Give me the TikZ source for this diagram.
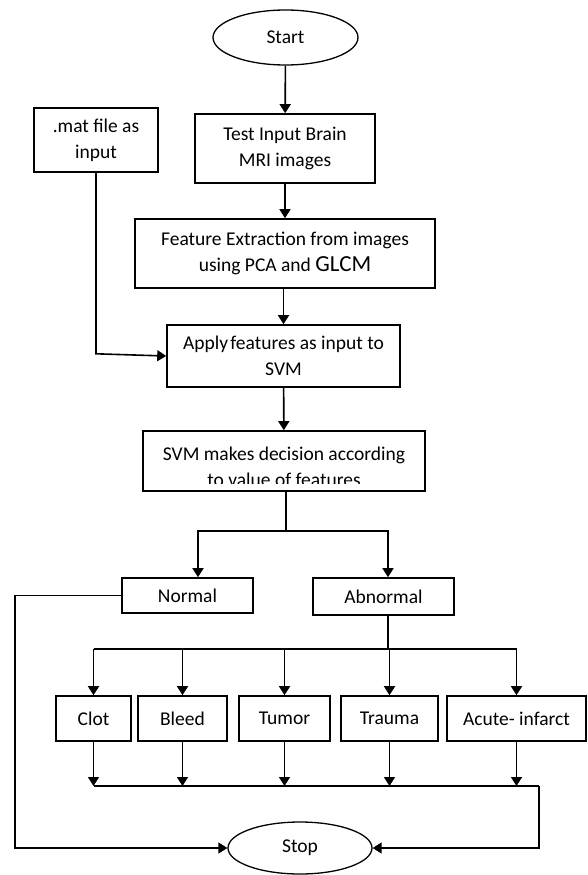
\documentclass[tikz,border=0pt]{standalone}
\usepackage{fontspec}
\setmainfont{Carlito}
\usetikzlibrary{arrows.meta,shapes.geometric}
\begin{document}
\begin{tikzpicture}[x=1pt,y=-1pt,
  every node/.style={font=\fontsize{19.5}{26}\selectfont, text=black, align=center, inner sep=0pt},
  box/.style={draw, line width=1.6pt, rectangle},
  oval/.style={draw, line width=1.3pt, ellipse},
  arr/.style={line width=1.6pt, -{Triangle[length=9pt,width=11pt]}},
  ln/.style={line width=1.6pt}]
\useasboundingbox (0,0) rectangle (587,875);

\node[oval, minimum width=145pt, minimum height=55pt] (start) at (285.5,37.5) {Start};
\node[box, minimum width=180pt, minimum height=69pt] (test) at (285,148.5) {Test Input Brain\\MRI images};
\node[box, minimum width=300pt, minimum height=69pt] (feat) at (285,253.5) {Feature Extraction from images\\using PCA and {\fontsize{23}{26}\selectfont GLCM}};
\node[box, minimum width=124pt, minimum height=64pt] (mat) at (96,140) {.mat file as\\input};
\node[box, minimum width=233pt, minimum height=62pt] (apply) at (283.5,356) {Apply\hspace{0.12em}features as input to\\SVM};
\node[box, minimum width=282pt, minimum height=60pt] (svm) at (284,461) {};
\begin{scope}
  \clip (143,431) rectangle (425,483.5);
  \node at (284,467) {SVM makes decision according\\to value of features};
\end{scope}
\node[box, minimum width=131pt, minimum height=35pt] (normal) at (187.5,595.5) {Normal};
\node[box, minimum width=141pt, minimum height=37pt] (abn) at (383.5,596.5) {Abnormal};

\node[box, minimum width=75pt, minimum height=45pt] (clot) at (93.5,718.5) {Clot};
\node[box, minimum width=89pt, minimum height=45pt] (bleed) at (182.5,718.5) {Bleed};
\node[box, minimum width=91pt, minimum height=45pt] (tumor) at (284.5,718.5) {Tumor};
\node[box, minimum width=97pt, minimum height=45pt] (trauma) at (389.5,718.5) {Trauma};
\node[box, minimum width=139pt, minimum height=45pt] (acute) at (516.5,718.5) {Acute- infarct};

\node[oval, minimum width=144pt, minimum height=52pt] (stop) at (300,848) {Stop};

% main chain
\draw[arr] (start) -- (test);
\draw[arr] (test) -- (feat);
\draw[arr] (feat.south -| apply.north) -- (apply.north);
\draw[arr] (apply) -- (svm);
\draw[arr] (mat.south) -- ++(0,181) -- (apply.west);

% split
\coordinate (split) at (286,531);
\draw[ln] (svm.south -| split) -- (split);
\draw[arr] (split) -| ([xshift=10.5pt]normal.north);
\draw[arr] (split) -| ([xshift=4.5pt]abn.north);

% normal to stop
\draw[arr] (normal.west) -- ++(-106,0) |- (stop.west);

% abnormal branches
\coordinate (hb) at (388,649);
\draw[ln] ([xshift=4.5pt]abn.south) -- (hb);
\draw[ln] (clot.north |- hb) -- (acute.north |- hb);
\foreach \n in {clot,bleed,tumor,trauma,acute}
  \draw[arr] (\n.north |- hb) -- (\n.north);

% collect
\coordinate (hc) at (539,786);
\foreach \n in {clot,bleed,tumor,trauma,acute}
  \draw[arr] (\n.south) -- (\n.south |- hc);
\draw[ln] (clot.south |- hc) -- (hc);
\draw[arr] (hc) |- (stop.east);
\end{tikzpicture}
\end{document}
